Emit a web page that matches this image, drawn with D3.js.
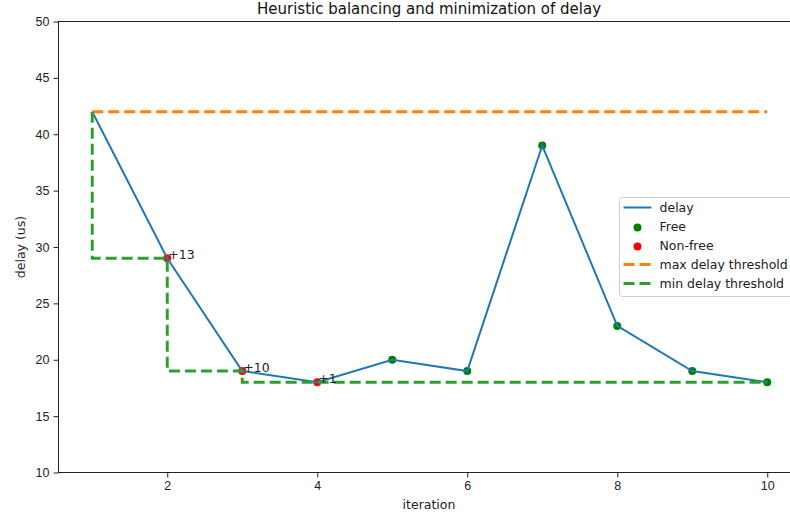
<!DOCTYPE html>
<html lang="en">
<head>
<meta charset="UTF-8">
<title>Heuristic balancing and minimization of delay</title>
<style>
    body { margin: 0; background: #fff; }
    svg { display: block; font-family: "DejaVu Sans", sans-serif; }
    .tick text { font-size: 12.5px; fill: #222; }
    .tick line { stroke: #222; }
</style>
</head>
<body>
<div id="chart"></div>
<script src="https://cdn.jsdelivr.net/npm/d3@7"></script>
<script>
    var iterations = [1, 2, 3, 4, 5, 6, 7, 8, 9, 10]
    var delay = [42, 29, 19, 18, 20, 19, 39, 23, 19, 18]
    var isFree = [null, false, false, false, true, true, true, true, true, true]
    var maxThreshold = [42, 42, 42, 42, 42, 42, 42, 42, 42, 42]
    var minThreshold = [42, 29, 19, 18, 18, 18, 18, 18, 18, 18]
    var gains = [null, "+13", "+10", "+1", null, null, null, null, null, null]
    var xTicks = [2, 4, 6, 8, 10]
    var yTicks = [10, 15, 20, 25, 30, 35, 40, 45, 50]

    var width = 790, height = 517
    // plot box (window.top is read-only, so no "top" here)
    var plotL = 58.5, plotR = 801, plotT = 21.5, plotB = 472.5

    var svg = d3.select("#chart").append("svg")
        .attr("width", width)
        .attr("height", height)

    var x = d3.scaleLinear().domain([0.55, 10.45]).range([plotL, plotR])
    var y = d3.scaleLinear().domain([10, 50]).range([plotB, plotT])

    // axes
    svg.append("g")
        .attr("transform", "translate(0," + plotB + ")")
        .call(d3.axisBottom(x).tickValues(xTicks).tickSize(5).tickPadding(4).tickFormat(d3.format("d")))
        .call(function (g) { g.select(".domain").remove() })
    svg.append("g")
        .attr("transform", "translate(" + plotL + ",0)")
        .call(d3.axisLeft(y).tickValues(yTicks).tickSize(5).tickPadding(4).tickFormat(d3.format("d")))
        .call(function (g) { g.select(".domain").remove() })

    svg.append("rect")
        .attr("x", plotL).attr("y", plotT)
        .attr("width", plotR - plotL).attr("height", plotB - plotT)
        .attr("fill", "none").attr("stroke", "#222").attr("stroke-width", 1)

    var rows = iterations.map(function (it, i) {
        return { it: it, delay: delay[i], free: isFree[i], max: maxThreshold[i], min: minThreshold[i], gain: gains[i] }
    })

    // scatter (drawn below the lines, like matplotlib)
    svg.append("g").selectAll("circle")
        .data(rows.filter(function (d) { return d.free !== null }))
        .enter().append("circle")
        .attr("cx", function (d) { return x(d.it) })
        .attr("cy", function (d) { return y(d.delay) })
        .attr("r", 4)
        .attr("fill", function (d) { return d.free ? "green" : "red" })

    var delayLine = d3.line().x(function (d) { return x(d.it) }).y(function (d) { return y(d.delay) })
    svg.append("path").datum(rows)
        .attr("d", delayLine)
        .attr("fill", "none").attr("stroke", "#1f77b4").attr("stroke-width", 2)

    var maxLine = d3.line().x(function (d) { return x(d.it) }).y(function (d) { return y(d.max) })
    svg.append("path").datum(rows)
        .attr("d", maxLine)
        .attr("fill", "none").attr("stroke", "#ff7f0e").attr("stroke-width", 3)
        .attr("stroke-dasharray", "11,5")

    var minLine = d3.line().curve(d3.curveStepBefore)
        .x(function (d) { return x(d.it) }).y(function (d) { return y(d.min) })
    svg.append("path").datum(rows)
        .attr("d", minLine)
        .attr("fill", "none").attr("stroke", "#2ca02c").attr("stroke-width", 3)
        .attr("stroke-dasharray", "11,5")

    // annotations
    svg.append("g").selectAll("text")
        .data(rows.filter(function (d) { return d.gain }))
        .enter().append("text")
        .attr("x", function (d) { return x(d.it) + 1 })
        .attr("y", function (d) { return y(d.delay) + 1 })
        .attr("font-size", 12.5).attr("fill", "#222")
        .text(function (d) { return d.gain })

    // titles
    svg.append("text")
        .attr("x", 429).attr("y", 14)
        .attr("text-anchor", "middle").attr("font-size", 15).attr("fill", "#111")
        .text("Heuristic balancing and minimization of delay")
    svg.append("text")
        .attr("x", 429).attr("y", 509)
        .attr("text-anchor", "middle").attr("font-size", 12.5).attr("fill", "#222")
        .text("iteration")
    svg.append("text")
        .attr("transform", "translate(25," + ((plotT + plotB) / 2) + ") rotate(-90)")
        .attr("text-anchor", "middle").attr("font-size", 12.5).attr("fill", "#222")
        .text("delay (us)")

    // legend
    var legendItems = [
        { label: "delay", kind: "line", color: "#1f77b4" },
        { label: "Free", kind: "dot", color: "green" },
        { label: "Non-free", kind: "dot", color: "red" },
        { label: "max delay threshold", kind: "dash", color: "#ff7f0e" },
        { label: "min delay threshold", kind: "dash", color: "#2ca02c" }
    ]
    var lg = svg.append("g").attr("transform", "translate(619.5,197.5)")
    lg.append("rect")
        .attr("width", 185).attr("height", 99).attr("rx", 3)
        .attr("fill", "#fff").attr("fill-opacity", 0.8)
        .attr("stroke", "#ccc")
    var item = lg.selectAll("g.item").data(legendItems).enter().append("g")
        .attr("class", "item")
        .attr("transform", function (d, i) { return "translate(0," + (10 + i * 19) + ")" })
    item.filter(function (d) { return d.kind !== "dot" }).append("line")
        .attr("x1", 4).attr("x2", 32).attr("y1", 0).attr("y2", 0)
        .attr("stroke", function (d) { return d.color })
        .attr("stroke-width", function (d) { return d.kind === "line" ? 2 : 3 })
        .attr("stroke-dasharray", function (d) { return d.kind === "dash" ? "11,5" : null })
    item.filter(function (d) { return d.kind === "dot" }).append("circle")
        .attr("cx", 18).attr("cy", 1).attr("r", 4)
        .attr("fill", function (d) { return d.color })
    item.append("text")
        .attr("x", 40).attr("y", 4.5)
        .attr("font-size", 12.5).attr("fill", "#222")
        .text(function (d) { return d.label })
</script>
</body>
</html>
